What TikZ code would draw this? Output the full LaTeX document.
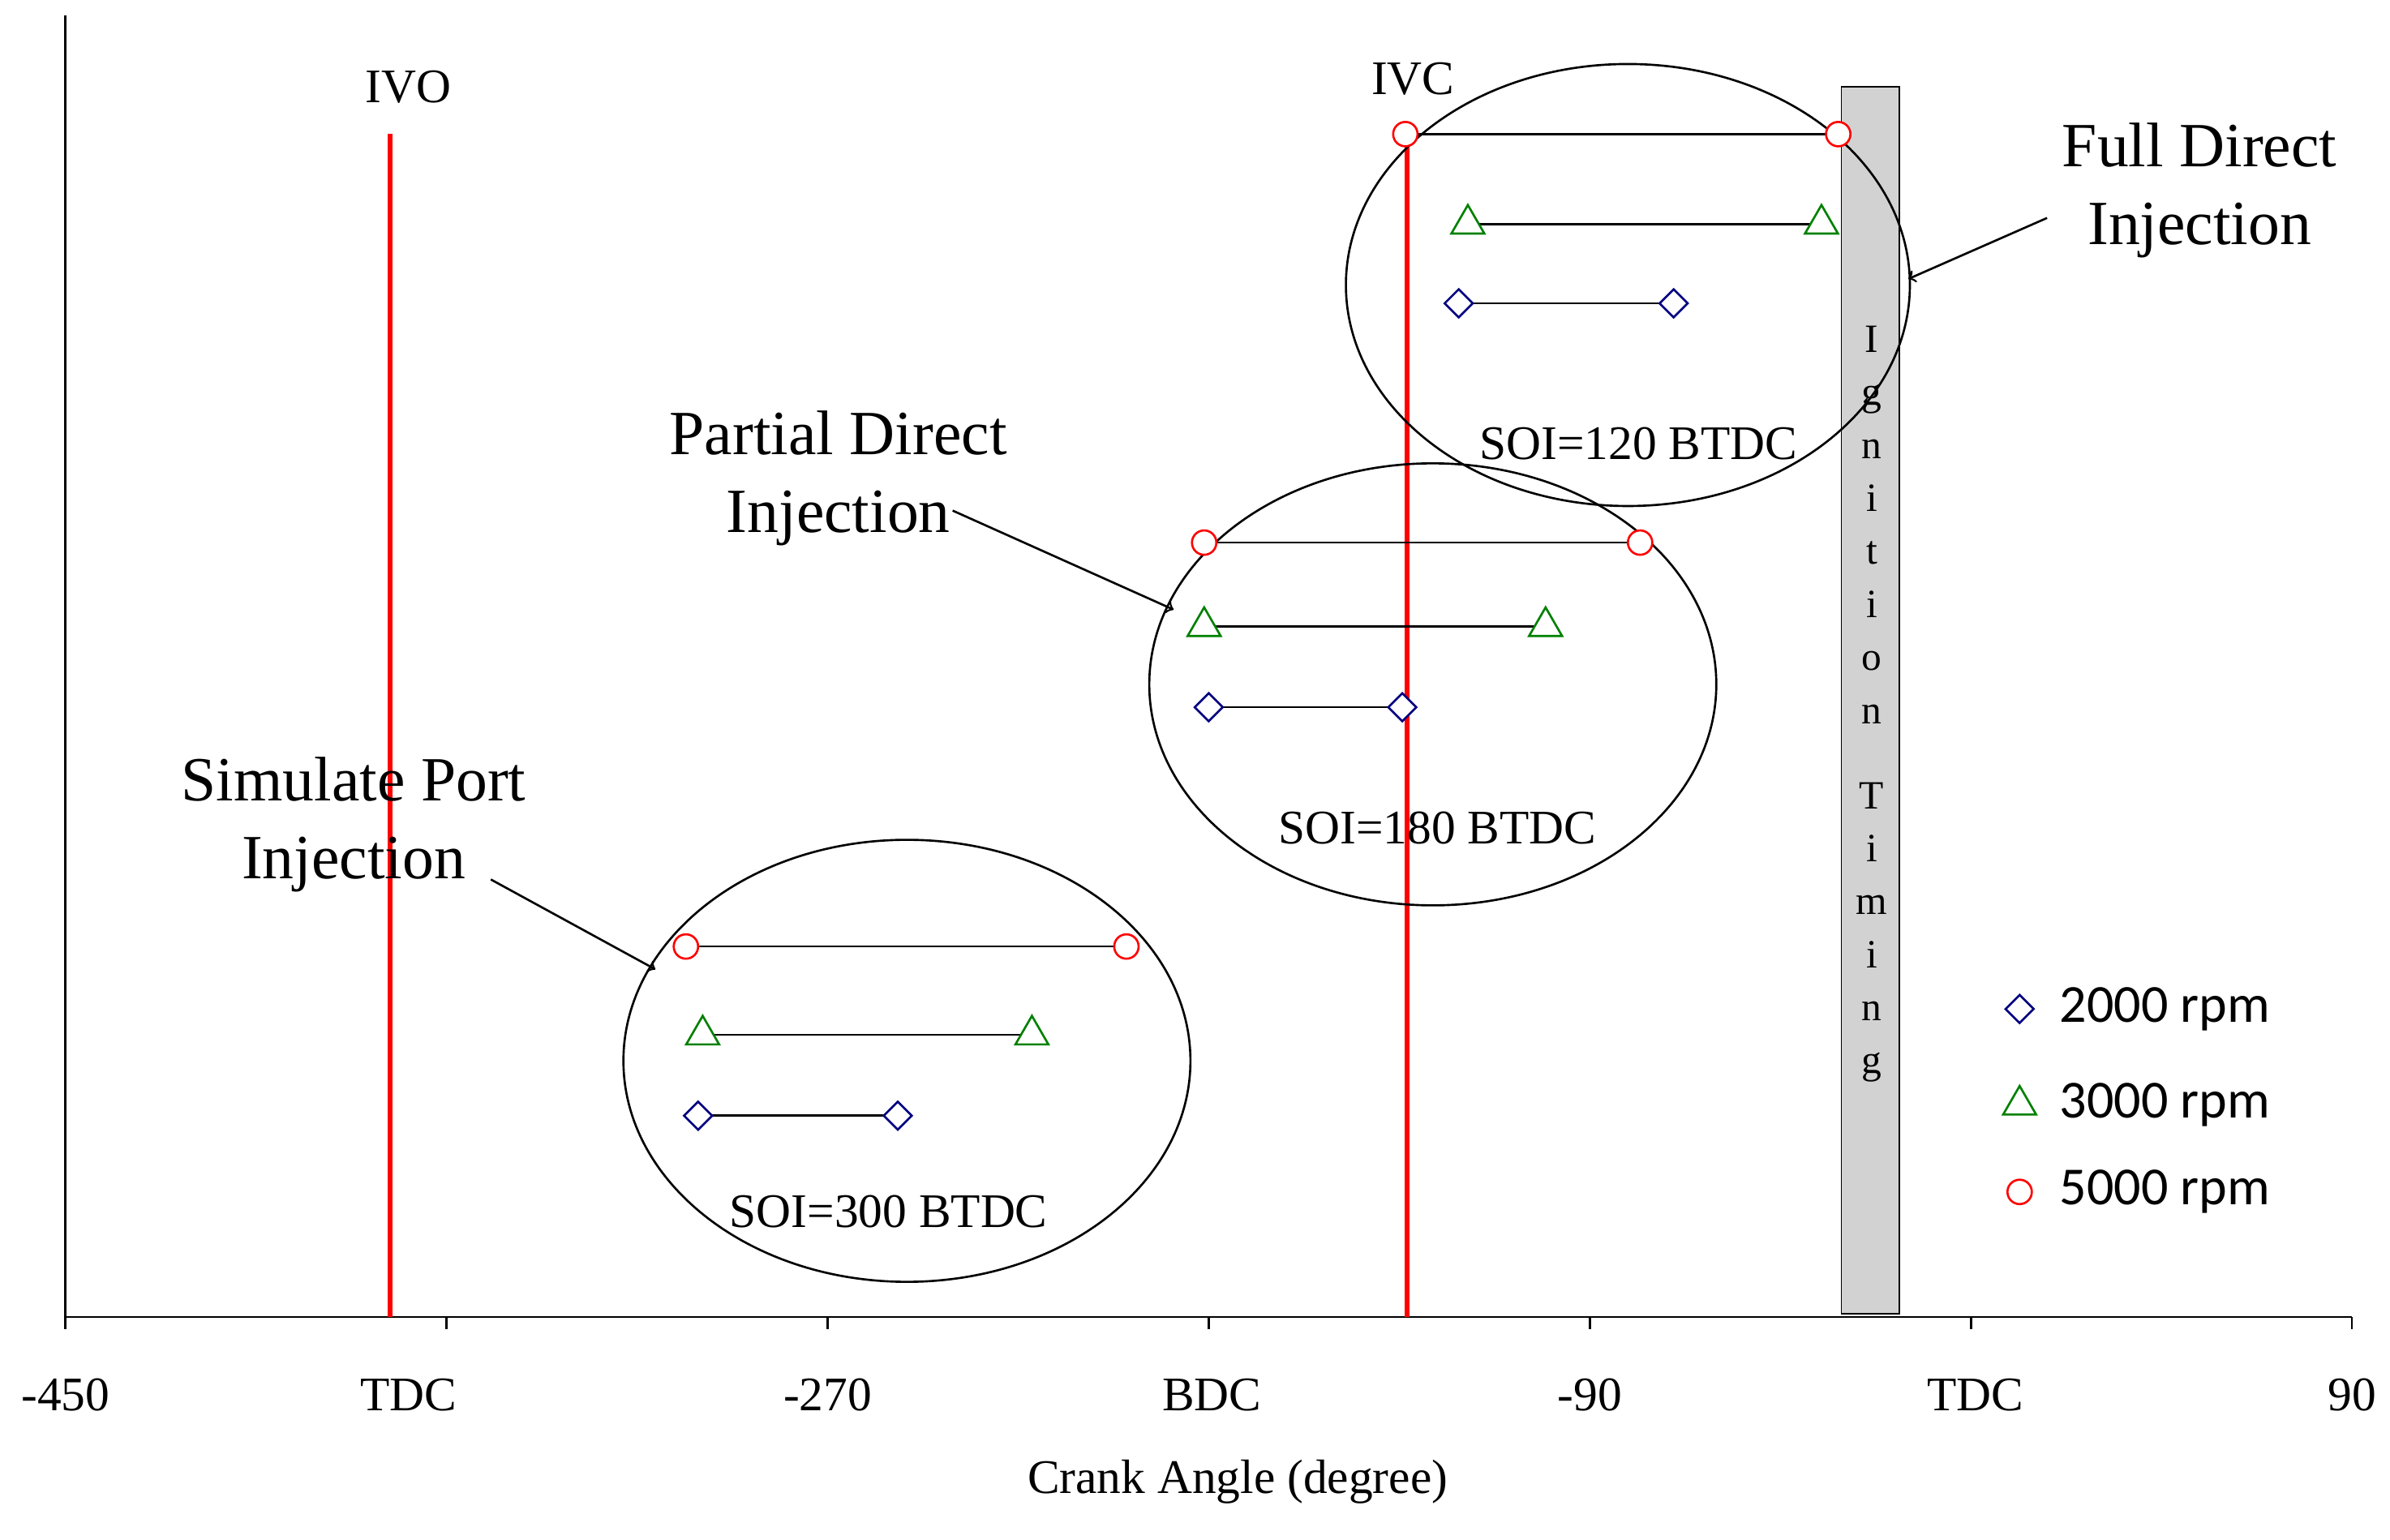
\documentclass[tikz,border=0pt]{standalone}
\usepackage{fontspec}
\setmainfont{Liberation Serif}
\newfontfamily\legfont{Carlito}
\usetikzlibrary{shapes.geometric}
\tikzset{
  circ/.style={circle,draw=red,thick,minimum size=16*0.02cm,inner sep=0pt,fill=white},
  tri/.style={regular polygon,regular polygon sides=3,draw=green!50!black,thick,minimum size=25*0.02cm,inner sep=0pt,fill=white},
  dia/.style={diamond,draw=blue!50!black,thick,minimum size=19*0.02cm,inner sep=0pt,fill=white},
  lbl/.style={font=\fontsize{23.5}{29}\selectfont,align=center},
  tick/.style={font=\fontsize{18}{20}\selectfont},
}
\begin{document}
\begin{tikzpicture}[x=0.02cm,y=-0.02cm]
            \useasboundingbox (0,0) rectangle (1568,1010);
            % axes
            \draw[thick] (43,10) -- (43,864) -- (1543,864);
            \foreach \x in {43,293,543,793,1043,1293,1543} \draw[thick] (\x,864) -- (\x,872);
            \node[tick] (t1) at (43,915) {-450};
            \node[tick] (t2) at (268,915) {TDC};
            \node[tick] (t3) at (543,915) {-270};
            \node[tick] (t4) at (795,915) {BDC};
            \node[tick] (t5) at (1043,915) {-90};
            \node[tick] (t6) at (1296,915) {TDC};
            \node[tick] (t7) at (1543,915) {90};
            \node[tick] (xl) at (812,972) {Crank Angle (degree)};
            % valve timings
            \draw[red,line width=1.8pt] (256,88) -- (256,864);
            \draw[red,line width=1.8pt] (923,88) -- (923,864);
            \node[tick] (ivo) at (268,57) {IVO};
            \node[tick] (ivc) at (927,52) {IVC};
            % ignition timing
            \draw[fill=gray!35] (1208,57) rectangle (1246,862);
            \node[font=\fontsize{15}{19.8}\selectfont,align=center] (ign) at (1228,462) {I\\g\\n\\i\\t\\i\\o\\n\\[12pt]T\\i\\m\\i\\n\\g};
            % ellipses
            \draw[thick] (1068,187) ellipse (185 and 145);
            \draw[thick] (940,449) ellipse (186 and 145);
            \draw[thick] (595,696) ellipse (186 and 145);
            % SOI=120
            \draw[thick] (922,88) -- (1206,88);
            \node[circ] (a1) at (922,88) {}; \node[circ] (a2) at (1206,88) {};
            \draw[thick] (963,147) -- (1195,147);
            \node[tri] (a3) at (963,147) {}; \node[tri] (a4) at (1195,147) {};
            \draw[thick] (957,199) -- (1098,199);
            \node[dia] (a5) at (957,199) {}; \node[dia] (a6) at (1098,199) {};
            % SOI=180
            \draw[thick] (790,356) -- (1076,356);
            \node[circ] (b1) at (790,356) {}; \node[circ] (b2) at (1076,356) {};
            \draw[thick] (790,411) -- (1014,411);
            \node[tri] (b3) at (790,411) {}; \node[tri] (b4) at (1014,411) {};
            \draw[thick] (793,464) -- (920,464);
            \node[dia] (b5) at (793,464) {}; \node[dia] (b6) at (920,464) {};
            % SOI=300
            \draw[thick] (450,621) -- (739,621);
            \node[circ] (c1) at (450,621) {}; \node[circ] (c2) at (739,621) {};
            \draw[thick] (461,679) -- (677,679);
            \node[tri] (c3) at (461,679) {}; \node[tri] (c4) at (677,679) {};
            \draw[thick] (458,732) -- (589,732);
            \node[dia] (c5) at (458,732) {}; \node[dia] (c6) at (589,732) {};
            \node[tick] (s1) at (1075,291) {SOI=120 BTDC};
            \node[tick] (s2) at (943,543) {SOI=180 BTDC};
            \node[tick] (s3) at (583,795) {SOI=300 BTDC};
            % callouts
            \node[lbl] (full) at (1443,125) {Full Direct\\Injection};
            \node[lbl] (part) at (550,314) {Partial Direct\\Injection};
            \node[lbl] (sim) at (232,541) {Simulate Port\\Injection};
            \coordinate (fe) at (1252,183);
            \coordinate (pe) at (770,400);
            \coordinate (se) at (430,636);
            \draw[thick,->] (1343,143) -- (fe);
            \draw[thick,->] (625,335) -- (pe);
            \draw[thick,->] (322,577) -- (se);
            % legend
            \node[dia] (l1) at (1325,662) {};
            \node[tri] (l2) at (1325,725) {};
            \node[circ] (l3) at (1325,782) {};
            \node[anchor=west,font=\legfont\fontsize{20}{24}\selectfont] at (1345,662) {2000 rpm};
            \node[anchor=west,font=\legfont\fontsize{20}{24}\selectfont] at (1345,725) {3000 rpm};
            \node[anchor=west,font=\legfont\fontsize{20}{24}\selectfont] at (1345,782) {5000 rpm};
\end{tikzpicture}
\end{document}
